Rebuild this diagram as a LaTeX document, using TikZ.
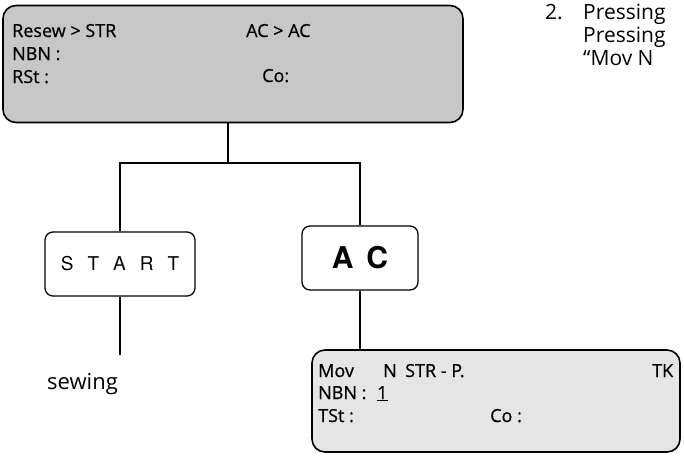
\documentclass[tikz,border=0pt]{standalone}
\usepackage{fontspec}
\setmainfont{Open Sans}
\newfontfamily\helv{TeX Gyre Heros}
\newfontfamily\lcdfont{Open Sans}[FakeBold=0.7]
\begin{document}
\begin{tikzpicture}[x=1pt,y=-1pt,
  lcd/.style={draw=black, line width=1.6pt, rounded corners=13pt, inner sep=0pt},
  keybox/.style={draw=black, line width=1.3pt, rounded corners=8pt, fill=white, inner sep=0pt},
  lbl/.style={anchor=base west, inner sep=0pt, font=\lcdfont\fontsize{18}{20}\selectfont},
  body/.style={anchor=base west, inner sep=0pt, font=\fontsize{21}{23}\selectfont},
  wire/.style={line width=1.3pt}]
\useasboundingbox (0,0) rectangle (684,456);
% top display
\node[lcd, fill=black!22, minimum width=460pt, minimum height=117pt] (top) at (233,64) {};
\node[lbl] (t1) at (12,37) {Resew > STR};
\node[lbl] (t2) at (246,37) {AC > AC};
\node[lbl] (t3) at (12,60) {NBN :};
\node[lbl] (t4) at (12,83) {RSt :};
\node[lbl] (t5) at (262,82) {Co:};
% keys
\node[keybox, minimum width=150pt, minimum height=64pt] (start) at (120,264)
  {\helv\fontsize{19}{20}\selectfont S\hspace{14pt}T\hspace{14pt}A\hspace{14pt}R\hspace{14pt}T};
\node[keybox, minimum width=116pt, minimum height=64pt] (ac) at (360,258)
  {\helv\bfseries\fontsize{30}{32}\selectfont A\hspace{13pt}C};
% bottom display
\node[lcd, fill=black!10, minimum width=368pt, minimum height=102pt] (bot) at (496,401) {};
\node[lbl] (b1) at (318,377) {Mov};
\node[lbl] (b2) at (383,377) {N};
\node[lbl] (b3) at (405,377) {STR - P.};
\node[lbl] (b4) at (652,377) {TK};
\node[lbl] (b5) at (318,399) {NBN :};
\node[lbl] (b6) at (377,399) {\underline{1}};
\node[lbl] (b7) at (318,422) {TSt :};
\node[lbl] (b8) at (490,422) {Co :};
% sewing
\node[body, font=\fontsize{22}{24}\selectfont] (sew) at (47,389) {sewing};
% connectors
\coordinate (j) at (228,163);
\coordinate (sewend) at (120,355);
\draw[wire] (top.south -| j) -- (j);
\draw[wire] (start.north) |- (j) -| (ac.north);
\draw[wire] (start.south) -- (start.south |- sewend);
\draw[wire] (ac.south) -- (ac.south |- bot.north);
% side text (cut at the page edge)
\begin{scope}
\clip (0,0) rectangle (684,456);
\node[body] (r0) at (545,19) {2.};
\node[body] (r1) at (583,19) {Pressing};
\node[body] (r2) at (583,42) {Pressing};
\node[body] (r3) at (583,65) {“Mov N};
\end{scope}
\end{tikzpicture}
\end{document}
